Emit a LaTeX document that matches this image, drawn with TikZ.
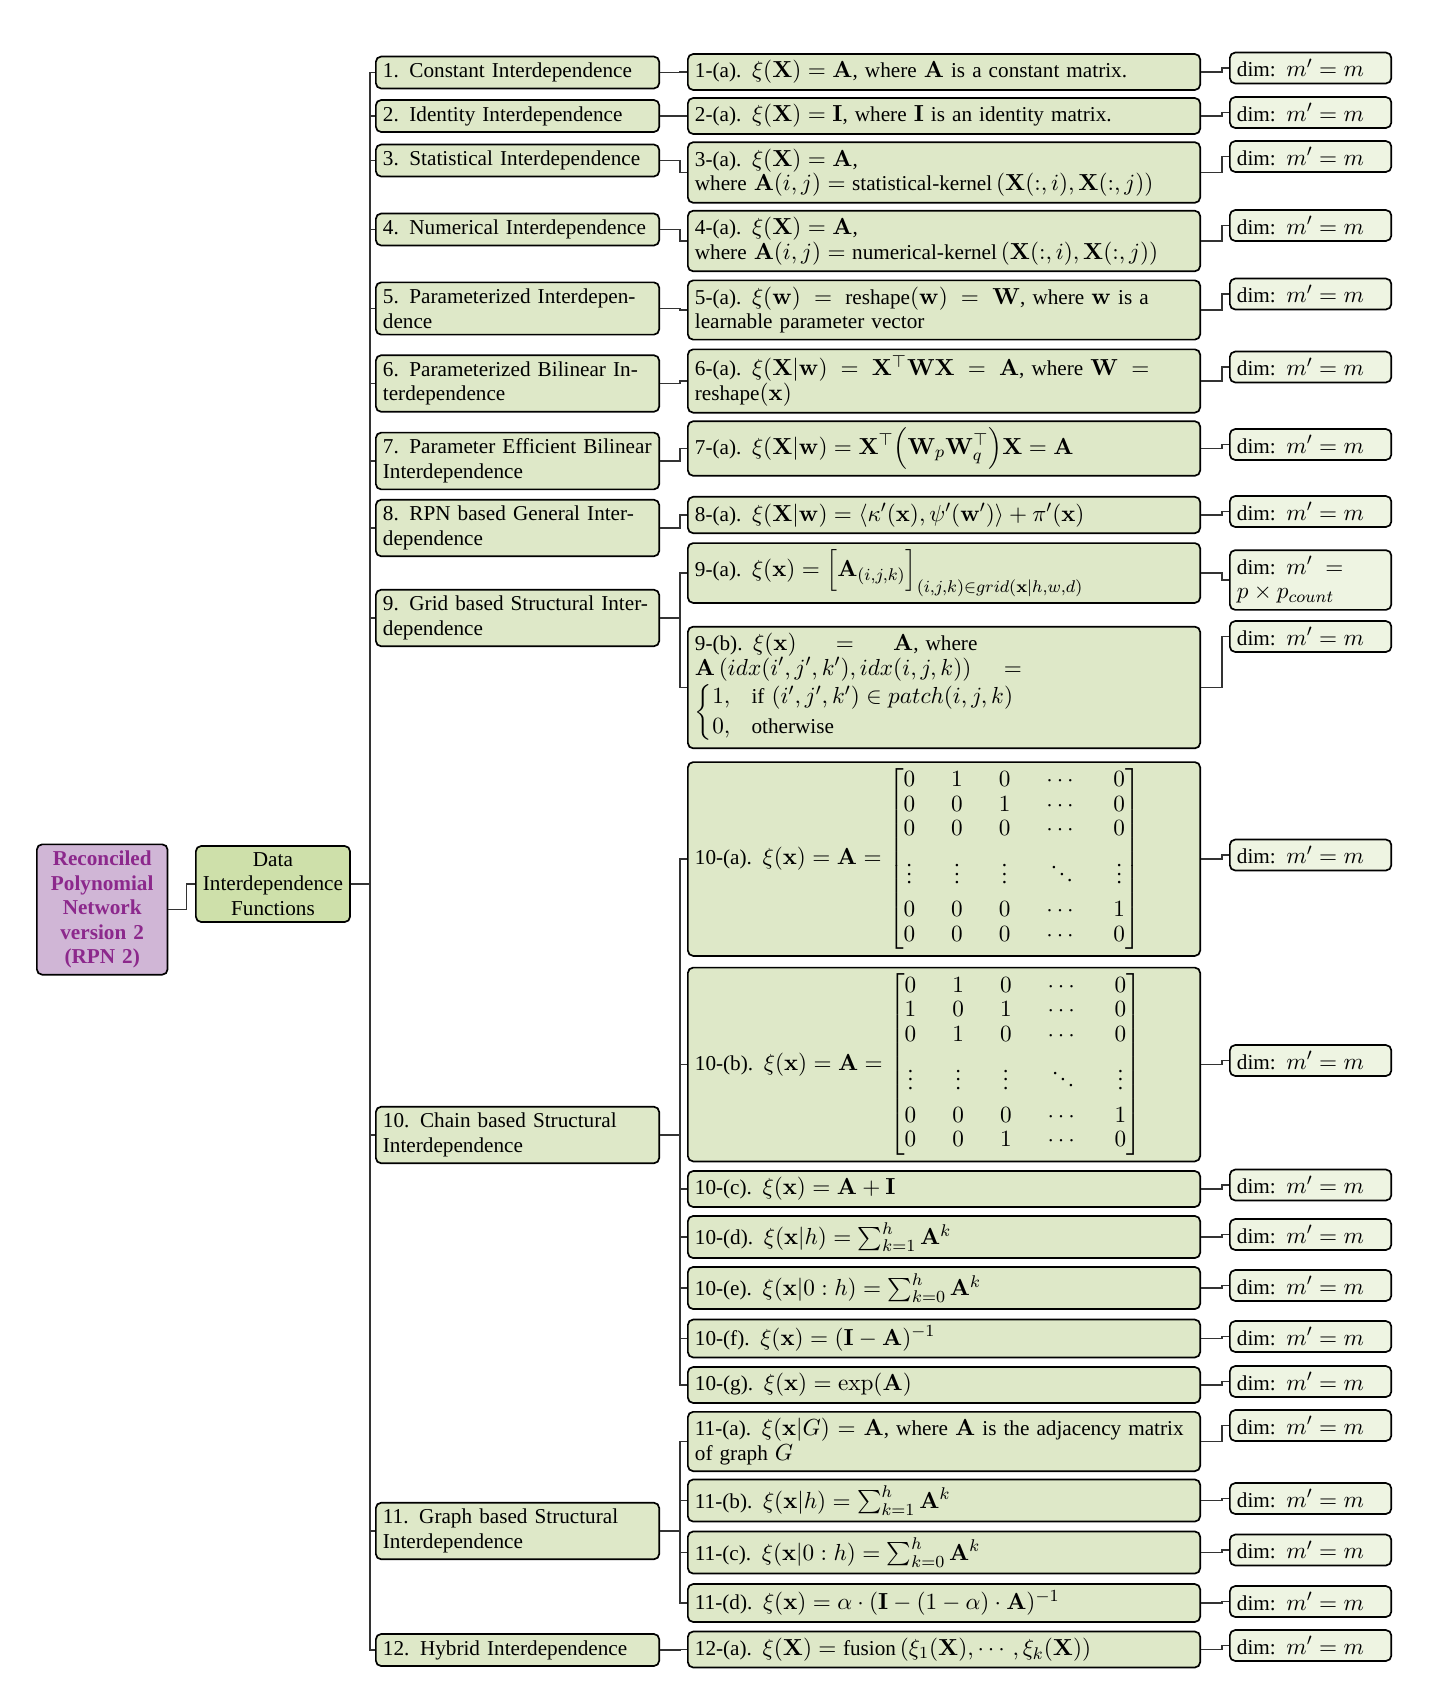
\documentclass[tikz,border=0pt]{standalone}
\usepackage{amsmath}
\usepackage[no-math]{fontspec}
\setmainfont{Liberation Serif}
\DeclareMathSizes{10}{10.95}{8}{6}

\definecolor{rpnfill}{RGB}{208,182,214}
\definecolor{rpntext}{RGB}{140,40,140}
\definecolor{funcfill}{RGB}{206,224,170}
\definecolor{itemfill}{RGB}{222,232,200}
\definecolor{dimfill}{RGB}{238,244,226}

\begin{document}
\begin{tikzpicture}[x=0.4717pt,y=0.4717pt,yscale=-1,xscale=1,
  box/.style={draw=black,line width=0.8pt,rounded corners=2.5pt,inner xsep=3.33pt,inner ysep=3pt,anchor=west,font=\fontsize{10pt}{11.6pt}\selectfont},
  catbox/.style={box,fill=itemfill,text width=127pt,align=left},
  fnbox/.style={box,fill=itemfill,text width=235pt,align=left},
  dimbox/.style={box,fill=dimfill,text width=69.5pt,align=left},
  fork/.style={draw=black!80,line width=0.7pt}]
%set diagram size: 1430 x 1700
\useasboundingbox (0,0) rectangle (1430,1700);

% Root Node
\node[box,fill=rpnfill,text=rpntext,text width=55pt,align=center,font=\fontsize{10pt}{11.6pt}\selectfont\bfseries] (rpn) at (36,909.5) {Reconciled\\Polynomial\\Network\\version 2\\(RPN 2)};
% Functions Node
\node[box,fill=funcfill,align=center] (dif) at (195,884) {Data\\Interdependence\\Functions};

% Category Nodes
\node[catbox] (c1) at (375,72.5) {1. Constant Interdependence};
\node[catbox] (c2) at (375,116) {2. Identity Interdependence};
\node[catbox] (c3) at (375,160.5) {3. Statistical Interdependence};
\node[catbox] (c4) at (375,229.5) {4. Numerical Interdependence};
\node[catbox] (c5) at (375,308.5) {5. Parameterized Interdepen-\linebreak dence};
\node[catbox] (c6) at (375,383.5) {6. Parameterized Bilinear In-\linebreak terdependence};
\node[catbox] (c7) at (375,461) {7. Parameter Efficient Bilinear\linebreak Interdependence};
\node[catbox] (c8) at (375,528) {8. RPN based General Inter-\linebreak dependence};
\node[catbox] (c9) at (375,618) {9. Grid based Structural Inter-\linebreak dependence};
\node[catbox] (c10) at (375,1135) {10. Chain based Structural\linebreak Interdependence};
\node[catbox] (c11) at (375,1531) {11. Graph based Structural\linebreak Interdependence};
\node[catbox] (c12) at (375,1650) {12. Hybrid Interdependence};

% Function Nodes
\node[fnbox] (f1a) at (687,72) {1-(a). $\xi(\mathbf{X}) = \mathbf{A}$, where $\mathbf{A}$ is a constant matrix.};
\node[fnbox] (f2a) at (687,116) {2-(a). $\xi(\mathbf{X}) = \mathbf{I}$, where $\mathbf{I}$ is an identity matrix.};
\node[fnbox] (f3a) at (687,172.5) {3-(a). $\xi(\mathbf{X}) = \mathbf{A}$,\\ where $\mathbf{A}(i,j) = \text{statistical-kernel}\left(\mathbf{X}(:,i), \mathbf{X}(:,j)\right)$};
\node[fnbox] (f4a) at (687,241) {4-(a). $\xi(\mathbf{X}) = \mathbf{A}$,\\ where $\mathbf{A}(i,j) = \text{numerical-kernel}\left(\mathbf{X}(:,i), \mathbf{X}(:,j)\right)$};
\node[fnbox] (f5a) at (687,310) {5-(a). $\xi(\mathbf{w}) = \text{reshape}(\mathbf{w}) = \mathbf{W}$, where $\mathbf{w}$ is a\linebreak learnable parameter vector};
\node[fnbox] (f6a) at (687,381) {6-(a). $\xi(\mathbf{X}|\mathbf{w}) = \mathbf{X}^{\top}\mathbf{W}\mathbf{X} = \mathbf{A}$, where $\mathbf{W} =$\linebreak $\text{reshape}(\mathbf{x})$};
\node[fnbox] (f7a) at (687,448.5) {7-(a). $\xi(\mathbf{X}|\mathbf{w}) = \mathbf{X}^{\top}\Bigl(\mathbf{W}_p\mathbf{W}_q^{\top}\Bigr)\mathbf{X} = \mathbf{A}$};
\node[fnbox] (f8a) at (687,515) {8-(a). $\xi(\mathbf{X}|\mathbf{w}) = \left\langle\kappa'(\mathbf{x}), \psi'(\mathbf{w}')\right\rangle + \pi'(\mathbf{x})$};
\node[fnbox] (f9a) at (687,573) {9-(a). $\xi(\mathbf{x}) = \Bigl[\mathbf{A}_{(i,j,k)}\Bigr]_{(i,j,k)\in grid(\mathbf{x}|h,w,d)}$};
\node[fnbox] (f9b) at (687,687.5) {9-(b). $\xi(\mathbf{x}) = \mathbf{A}$, where\linebreak $\mathbf{A}\left(idx(i',j',k'), idx(i,j,k)\right) =$\linebreak $\begin{cases} 1, & \text{if } (i',j',k') \in patch(i,j,k)\\ 0, & \text{otherwise} \end{cases}$};
\node[fnbox] (f10a) at (687,859) {10-(a). $\xi(\mathbf{x}) = \mathbf{A} = {\setlength{\arraycolsep}{8.5pt}\begin{bmatrix} 0 & 1 & 0 & \cdots & 0\\ 0 & 0 & 1 & \cdots & 0\\ 0 & 0 & 0 & \cdots & 0\\[4pt] \vdots & \vdots & \vdots & \ddots & \vdots\\[4pt] 0 & 0 & 0 & \cdots & 1\\ 0 & 0 & 0 & \cdots & 0 \end{bmatrix}}$};
\node[fnbox] (f10b) at (687,1064.5) {10-(b). $\xi(\mathbf{x}) = \mathbf{A} = {\setlength{\arraycolsep}{8.5pt}\begin{bmatrix} 0 & 1 & 0 & \cdots & 0\\ 1 & 0 & 1 & \cdots & 0\\ 0 & 1 & 0 & \cdots & 0\\[4pt] \vdots & \vdots & \vdots & \ddots & \vdots\\[4pt] 0 & 0 & 0 & \cdots & 1\\ 0 & 0 & 1 & \cdots & 0 \end{bmatrix}}$};
\node[fnbox] (f10c) at (687,1189) {10-(c). $\xi(\mathbf{x}) = \mathbf{A} + \mathbf{I}$};
\node[fnbox] (f10d) at (687,1237) {10-(d). $\xi(\mathbf{x}|h) = \sum_{k=1}^{h} \mathbf{A}^k$};
\node[fnbox] (f10e) at (687,1288) {10-(e). $\xi(\mathbf{x}|0:h) = \sum_{k=0}^{h} \mathbf{A}^k$};
\node[fnbox] (f10f) at (687,1338.5) {10-(f). $\xi(\mathbf{x}) = (\mathbf{I} - \mathbf{A})^{-1}$};
\node[fnbox] (f10g) at (687,1385) {10-(g). $\xi(\mathbf{x}) = \exp(\mathbf{A})$};
\node[fnbox] (f11a) at (687,1441.5) {11-(a). $\xi(\mathbf{x}|G) = \mathbf{A}$, where $\mathbf{A}$ is the adjacency matrix\linebreak of graph $G$};
\node[fnbox] (f11b) at (687,1500.5) {11-(b). $\xi(\mathbf{x}|h) = \sum_{k=1}^{h} \mathbf{A}^k$};
\node[fnbox] (f11c) at (687,1552.5) {11-(c). $\xi(\mathbf{x}|0:h) = \sum_{k=0}^{h} \mathbf{A}^k$};
\node[fnbox] (f11d) at (687,1603) {11-(d). $\xi(\mathbf{x}) = \alpha \cdot (\mathbf{I} - (1-\alpha) \cdot \mathbf{A})^{-1}$};
\node[fnbox] (f12a) at (687,1649.5) {12-(a). $\xi(\mathbf{X}) = \text{fusion}\left(\xi_1(\mathbf{X}), \cdots, \xi_k(\mathbf{X})\right)$};

% Dimension Nodes
\node[dimbox] (d1a) at (1229,68) {dim: $m' = m$};
\node[dimbox] (d2a) at (1229,112.5) {dim: $m' = m$};
\node[dimbox] (d3a) at (1229,156.5) {dim: $m' = m$};
\node[dimbox] (d4a) at (1229,225.5) {dim: $m' = m$};
\node[dimbox] (d5a) at (1229,294) {dim: $m' = m$};
\node[dimbox] (d6a) at (1229,367) {dim: $m' = m$};
\node[dimbox] (d7a) at (1229,444.5) {dim: $m' = m$};
\node[dimbox] (d8a) at (1229,511.5) {dim: $m' = m$};
\node[dimbox] (d9a) at (1229,580) {dim: $m' =$\linebreak $p \times p_{count}$};
\node[dimbox] (d9b) at (1229,636.5) {dim: $m' = m$};
\node[dimbox] (d10a) at (1229,855) {dim: $m' = m$};
\node[dimbox] (d10b) at (1229,1060.5) {dim: $m' = m$};
\node[dimbox] (d10c) at (1229,1185) {dim: $m' = m$};
\node[dimbox] (d10d) at (1229,1234.5) {dim: $m' = m$};
\node[dimbox] (d10e) at (1229,1285.5) {dim: $m' = m$};
\node[dimbox] (d10f) at (1229,1336.5) {dim: $m' = m$};
\node[dimbox] (d10g) at (1229,1381.5) {dim: $m' = m$};
\node[dimbox] (d11a) at (1229,1425.5) {dim: $m' = m$};
\node[dimbox] (d11b) at (1229,1498.5) {dim: $m' = m$};
\node[dimbox] (d11c) at (1229,1550) {dim: $m' = m$};
\node[dimbox] (d11d) at (1229,1601.5) {dim: $m' = m$};
\node[dimbox] (d12a) at (1229,1645.5) {dim: $m' = m$};

% Root to functions
\draw[fork] (rpn.east) -- ++(18,0) |- (dif.west);
% Functions to categories
\draw[fork] (dif.east) -- ++(19,0) |- (c1.west);
\draw[fork] (dif.east) -- ++(19,0) |- (c2.west);
\draw[fork] (dif.east) -- ++(19,0) |- (c3.west);
\draw[fork] (dif.east) -- ++(19,0) |- (c4.west);
\draw[fork] (dif.east) -- ++(19,0) |- (c5.west);
\draw[fork] (dif.east) -- ++(19,0) |- (c6.west);
\draw[fork] (dif.east) -- ++(19,0) |- (c7.west);
\draw[fork] (dif.east) -- ++(19,0) |- (c8.west);
\draw[fork] (dif.east) -- ++(19,0) |- (c9.west);
\draw[fork] (dif.east) -- ++(19,0) |- (c10.west);
\draw[fork] (dif.east) -- ++(19,0) |- (c11.west);
\draw[fork] (dif.east) -- ++(19,0) |- (c12.west);
% Categories to formulas
\draw[fork] (c1.east) -- ++(20,0) |- (f1a.west);
\draw[fork] (c2.east) -- ++(20,0) |- (f2a.west);
\draw[fork] (c3.east) -- ++(20,0) |- (f3a.west);
\draw[fork] (c4.east) -- ++(20,0) |- (f4a.west);
\draw[fork] (c5.east) -- ++(20,0) |- (f5a.west);
\draw[fork] (c6.east) -- ++(20,0) |- (f6a.west);
\draw[fork] (c7.east) -- ++(20,0) |- (f7a.west);
\draw[fork] (c8.east) -- ++(20,0) |- (f8a.west);
\draw[fork] (c9.east) -- ++(20,0) |- (f9a.west);
\draw[fork] (c9.east) -- ++(20,0) |- (f9b.west);
\draw[fork] (c10.east) -- ++(20,0) |- (f10a.west);
\draw[fork] (c10.east) -- ++(20,0) |- (f10b.west);
\draw[fork] (c10.east) -- ++(20,0) |- (f10c.west);
\draw[fork] (c10.east) -- ++(20,0) |- (f10d.west);
\draw[fork] (c10.east) -- ++(20,0) |- (f10e.west);
\draw[fork] (c10.east) -- ++(20,0) |- (f10f.west);
\draw[fork] (c10.east) -- ++(20,0) |- (f10g.west);
\draw[fork] (c11.east) -- ++(20,0) |- (f11a.west);
\draw[fork] (c11.east) -- ++(20,0) |- (f11b.west);
\draw[fork] (c11.east) -- ++(20,0) |- (f11c.west);
\draw[fork] (c11.east) -- ++(20,0) |- (f11d.west);
\draw[fork] (c12.east) -- ++(20,0) |- (f12a.west);
% Formulas to dimensions
\draw[fork] (f1a.east) -- ++(21,0) |- (d1a.west);
\draw[fork] (f2a.east) -- ++(21,0) |- (d2a.west);
\draw[fork] (f3a.east) -- ++(21,0) |- (d3a.west);
\draw[fork] (f4a.east) -- ++(21,0) |- (d4a.west);
\draw[fork] (f5a.east) -- ++(21,0) |- (d5a.west);
\draw[fork] (f6a.east) -- ++(21,0) |- (d6a.west);
\draw[fork] (f7a.east) -- ++(21,0) |- (d7a.west);
\draw[fork] (f8a.east) -- ++(21,0) |- (d8a.west);
\draw[fork] (f9a.east) -- ++(21,0) |- (d9a.west);
\draw[fork] (f9b.east) -- ++(21,0) |- (d9b.west);
\draw[fork] (f10a.east) -- ++(21,0) |- (d10a.west);
\draw[fork] (f10b.east) -- ++(21,0) |- (d10b.west);
\draw[fork] (f10c.east) -- ++(21,0) |- (d10c.west);
\draw[fork] (f10d.east) -- ++(21,0) |- (d10d.west);
\draw[fork] (f10e.east) -- ++(21,0) |- (d10e.west);
\draw[fork] (f10f.east) -- ++(21,0) |- (d10f.west);
\draw[fork] (f10g.east) -- ++(21,0) |- (d10g.west);
\draw[fork] (f11a.east) -- ++(21,0) |- (d11a.west);
\draw[fork] (f11b.east) -- ++(21,0) |- (d11b.west);
\draw[fork] (f11c.east) -- ++(21,0) |- (d11c.west);
\draw[fork] (f11d.east) -- ++(21,0) |- (d11d.west);
\draw[fork] (f12a.east) -- ++(21,0) |- (d12a.west);

\end{tikzpicture}
\end{document}
